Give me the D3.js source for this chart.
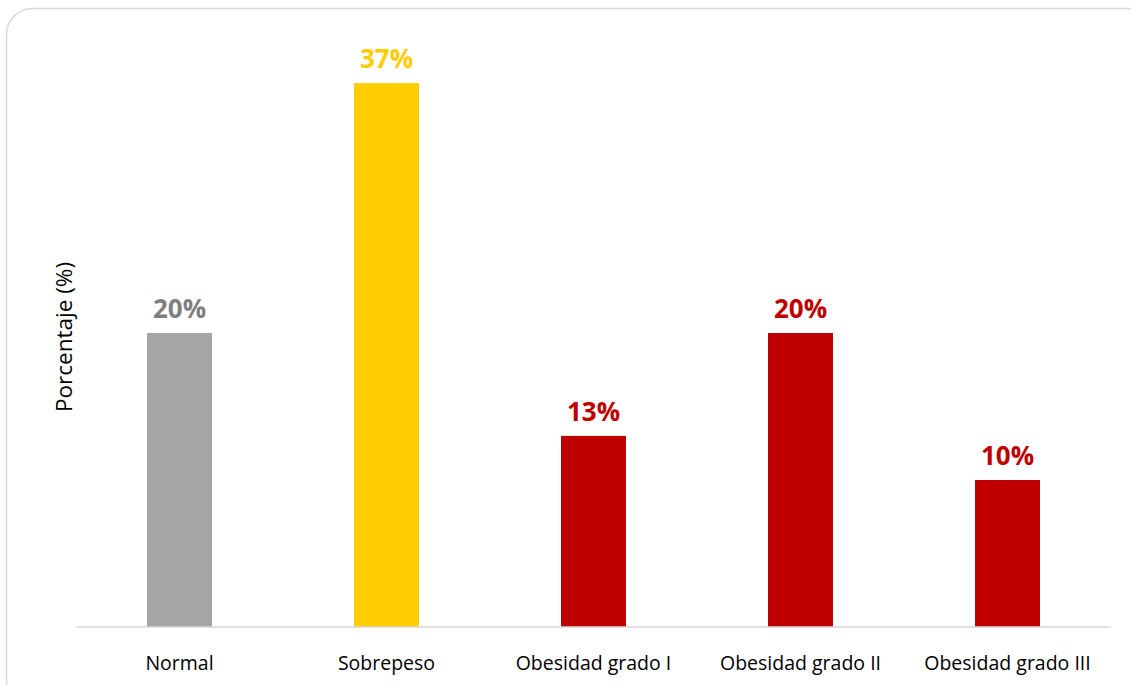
<!DOCTYPE html>
<html>
<head>
<meta charset="utf-8">
<script src="https://cdn.jsdelivr.net/npm/d3@7"></script>
<style>
  html, body { margin: 0; padding: 0; background: #fff; }
  svg { display: block; }
</style>
</head>
<body>
<svg id="chart" width="1131" height="685"></svg>
<script>
// Distribución por estado nutricional
const categories = ["Normal", "Sobrepeso", "Obesidad grado I", "Obesidad grado II", "Obesidad grado III"];
const values = [20, 37, 13, 20, 10];
const barColors = ["#a5a5a5", "#ffcc00", "#c00000", "#c00000", "#c00000"];
const labelColors = ["#7f7f7f", "#ffcc00", "#c00000", "#c00000", "#c00000"];
const yTitle = "Porcentaje (%)";

const svg = d3.select("#chart");
const font = "'Open Sans', 'Noto Sans', sans-serif";

// outer frame
svg.append("rect")
  .attr("x", 6.5).attr("y", 8.5)
  .attr("width", 1150).attr("height", 700)
  .attr("rx", 26).attr("ry", 26)
  .attr("fill", "#fff")
  .attr("stroke", "#d9d9d9")
  .attr("stroke-width", 1.5);

const plot = { left: 76, right: 1111, top: 39, bottom: 627 };

const x = d3.scaleBand()
  .domain(categories)
  .range([plot.left, plot.right])
  .paddingInner(0.686)
  .paddingOuter(0.343);

const y = d3.scaleLinear()
  .domain([0, 40])
  .range([plot.bottom, plot.top]);

// bars
svg.append("g").selectAll("rect")
  .data(categories)
  .join("rect")
  .attr("x", d => x(d))
  .attr("y", (d, i) => y(values[i]))
  .attr("width", x.bandwidth())
  .attr("height", (d, i) => y(0) - y(values[i]))
  .attr("fill", (d, i) => barColors[i]);

// category axis
const xAxis = svg.append("g")
  .attr("transform", `translate(0,${plot.bottom})`)
  .call(d3.axisBottom(x).tickSize(0).tickPadding(29));
xAxis.select(".domain").attr("stroke", "#d9d9d9").attr("stroke-width", 1.5)
  .attr("d", `M${plot.left},0H${plot.right}`);
xAxis.selectAll("text")
  .attr("font-family", font)
  .attr("font-size", 19.5)
  .attr("fill", "#000");

// value labels
svg.append("g").selectAll("text")
  .data(categories)
  .join("text")
  .attr("x", d => x(d) + x.bandwidth() / 2)
  .attr("y", (d, i) => y(values[i]) - 15)
  .attr("text-anchor", "middle")
  .attr("font-family", font)
  .attr("font-weight", "bold")
  .attr("font-size", 26)
  .attr("fill", (d, i) => labelColors[i])
  .text((d, i) => values[i] + "%");

// y axis title
svg.append("text")
  .attr("transform", `translate(72,337) rotate(-90)`)
  .attr("text-anchor", "middle")
  .attr("font-family", font)
  .attr("font-size", 22.5)
  .attr("fill", "#000")
  .text(yTitle);
</script>
</body>
</html>
